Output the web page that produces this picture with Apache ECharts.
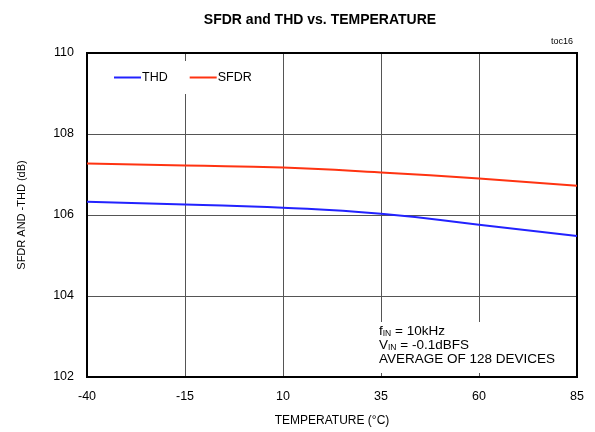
<!DOCTYPE html>
<html>
<head>
<meta charset="utf-8">
<script src="https://cdn.jsdelivr.net/npm/echarts@6/dist/echarts.min.js"></script>
<style>html,body{margin:0;padding:0;background:#fff}#c{width:595px;height:432px}</style>
</head>
<body>
<div id="c"></div>
<script>
var temps = [-40, -15, 10, 35, 60, 85];
var thd = [106.33, 106.26, 106.18, 106.03, 105.76, 105.48];
var sfdr = [107.27, 107.22, 107.17, 107.05, 106.90, 106.72];
var xTicks = [-40, -15, 10, 35, 60, 85];
var yTicks = [102, 104, 106, 108, 110];

var F = '"Liberation Sans", Arial, sans-serif';
var chart = echarts.init(document.getElementById('c'));
function pairs(v){ return temps.map(function(t,i){ return [t, v[i]]; }); }
chart.setOption({
  animation: false,
  title: {
    text: 'SFDR and THD vs. TEMPERATURE',
    left: 315, top: 8, textAlign: 'center',
    textStyle: {fontFamily: F, fontSize: 14, fontWeight: 'bold', color: '#000'}
  },
  legend: {
    left: 106, top: 61,
    itemWidth: 27, itemHeight: 2, itemGap: 22,
    backgroundColor: '#fff', padding: [10, 8],
    icon: 'rect',
    textStyle: {fontFamily: F, fontSize: 12.5, color: '#000', padding: [0,0,0,-4]},
    data: ['THD', 'SFDR']
  },
  grid: {left: 87, right: 18, top: 53, bottom: 54, show: true, borderColor: '#000', borderWidth: 2, z: 3},
  xAxis: {
    type: 'value', min: xTicks[0], max: xTicks[xTicks.length-1], interval: 25,
    name: 'TEMPERATURE (°C)', nameLocation: 'middle', nameGap: 38,
    nameTextStyle: {fontFamily: F, fontSize: 12, color: '#000'},
    axisLine: {show: false}, axisTick: {show: false},
    axisLabel: {fontFamily: F, fontSize: 12.5, color: '#000', margin: 13},
    splitLine: {show: true, lineStyle: {color: '#555', width: 1}}
  },
  yAxis: {
    type: 'value', min: yTicks[0], max: yTicks[yTicks.length-1], interval: 2,
    name: 'SFDR AND -THD (dB)', nameLocation: 'middle', nameGap: 60,
    nameTextStyle: {fontFamily: F, fontSize: 11, color: '#000'},
    axisLine: {show: false}, axisTick: {show: false},
    axisLabel: {fontFamily: F, fontSize: 12.5, color: '#000', margin: 13},
    splitLine: {show: true, lineStyle: {color: '#555', width: 1}}
  },
  graphic: [
    {type: 'text', right: 22, top: 37, style: {text: 'toc16', font: '9px ' + F, fill: '#000'}},
    {type: 'rect', shape: {x: 378, y: 322, width: 197, height: 51}, style: {fill: '#fff'}, z: 5},
    {type: 'text', left: 379, top: 324, z: 6, style: {
      rich: {
        n: {fontFamily: F, fontSize: 13.5, color: '#000', lineHeight: 14},
        s: {fontFamily: F, fontSize: 8.5, color: '#000', lineHeight: 5, verticalAlign: 'bottom'}
      },
      text: '{n|f}{s|IN}{n| = 10kHz}\n{n|V}{s|IN}{n| = -0.1dBFS}\n{n|AVERAGE OF 128 DEVICES}'
    }}
  ],
  series: [
    {name: 'THD', type: 'line', data: pairs(thd), smooth: true, showSymbol: false, color: '#2222ff', lineStyle: {width: 2, color: '#2222ff'}},
    {name: 'SFDR', type: 'line', data: pairs(sfdr), smooth: true, showSymbol: false, color: '#ff3311', lineStyle: {width: 2, color: '#ff3311'}}
  ]
});
</script>
</body>
</html>
